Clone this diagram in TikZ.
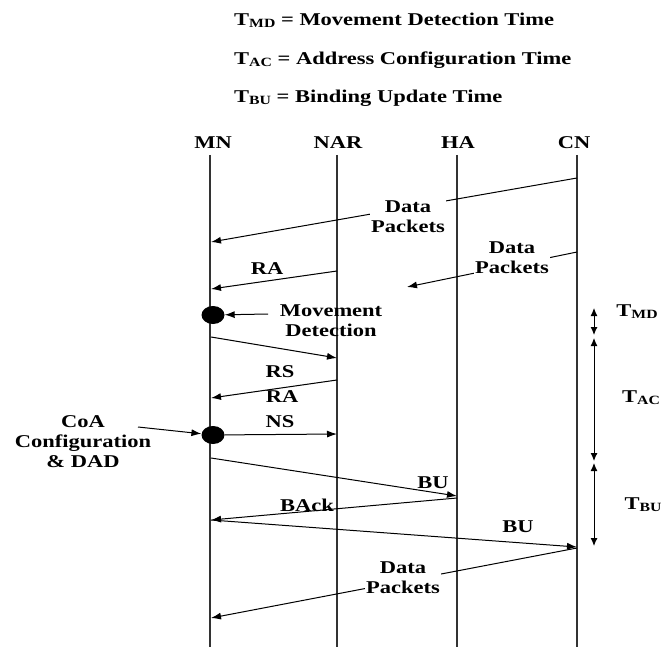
\documentclass[tikz,border=0pt]{standalone}
\usepackage{fontspec}
\setmainfont{Liberation Serif}[FakeStretch=1.25]
\usetikzlibrary{arrows.meta,shapes.geometric}
\newcommand\mysub[1]{\raisebox{-2pt}{\fontsize{12.6}{13}\selectfont #1}}
\begin{document}
\begin{tikzpicture}[x=1pt,y=-1pt,
 lbl/.style={font=\fontsize{18}{20}\selectfont\bfseries, inner sep=1pt, align=center},
 life/.style={line width=2.4pt, draw=black!80},
 msg/.style={line width=1pt, -{Latex[length=10pt,width=7pt]}},
 dotn/.style={ellipse, fill=black, minimum width=23pt, minimum height=18pt, inner sep=0pt},
 tim/.style={line width=1pt, {Latex[length=8pt,width=7pt]}-{Latex[length=8pt,width=7pt]}}]
\useasboundingbox (0,0) rectangle (663,647);
% legend
\node[lbl, anchor=west] (l1) at (233,20) {T\mysub{MD} = Movement Detection Time};
\node[lbl, anchor=west] (l2) at (233,60) {T\mysub{AC} = Address Configuration Time};
\node[lbl, anchor=west] (l3) at (233,98) {T\mysub{BU} = Binding Update Time};
% headers
\node[lbl] (hMN) at (213,143) {MN};
\node[lbl] (hNAR) at (338,143) {NAR};
\node[lbl] (hHA) at (458,143) {HA};
\node[lbl] (hCN) at (574,143) {CN};
% lifelines
\coordinate (MNt) at (210,155); \coordinate (MNb) at (210,647);
\coordinate (NARt) at (337,155); \coordinate (NARb) at (337,647);
\coordinate (HAt) at (457,155); \coordinate (HAb) at (457,647);
\coordinate (CNt) at (577,155); \coordinate (CNb) at (577,647);
\draw[life] (MNt) -- (MNb);
\draw[life] (NARt) -- (NARb);
\draw[life] (HAt) -- (HAb);
\draw[life] (CNt) -- (CNb);
% message end points
\coordinate (a1s) at (577,178); \coordinate (a1e) at (211,242);
\coordinate (a2s) at (577,252); \coordinate (a2e) at (407,287);
\coordinate (a3s) at (337,271); \coordinate (a3e) at (211,289);
\coordinate (mda) at (268,314);
\coordinate (a4s) at (211,337); \coordinate (a4e) at (337,358);
\coordinate (a5s) at (337,380); \coordinate (a5e) at (211,398);
\coordinate (a6e) at (337,434);
\coordinate (coa) at (138,427);
\coordinate (a7s) at (211,458); \coordinate (a7e) at (457,496);
\coordinate (a8s) at (457,498); \coordinate (a8e) at (211,520);
\coordinate (a9s) at (211,520); \coordinate (a9e) at (577,547);
\coordinate (a10s) at (577,548); \coordinate (a10e) at (211,618);
% dots
\node[dotn] (d1) at (213,315) {};
\node[dotn] (d2) at (213,435) {};
% messages
\draw[msg] (a1s) -- (a1e);
\node[lbl, fill=white] (dp1) at (408,217) {Data\\Packets};
\draw[msg] (a2s) -- (a2e);
\node[lbl, fill=white] (dp2) at (512,258) {Data\\Packets};
\draw[msg] (a3s) -- (a3e);
\node[lbl] (ra1) at (267,269) {RA};
\node[lbl] (md) at (331,321) {Movement\\Detection};
\draw[msg] (mda) -- (d1);
\draw[msg] (a4s) -- (a4e);
\node[lbl] (rs) at (280,372) {RS};
\draw[msg] (a5s) -- (a5e);
\node[lbl] (ra2) at (282,397) {RA};
\node[lbl] (ns) at (280,422) {NS};
\draw[msg] (d2) -- (a6e);
\node[lbl] (coal) at (83,442) {CoA\\Configuration\\\& DAD};
\draw[msg] (coa) -- (d2);
\draw[msg] (a7s) -- (a7e);
\node[lbl] (bu1) at (433,483) {BU};
\draw[msg] (a8s) -- (a8e);
\node[lbl] (back) at (307,505) {BAck};
\draw[msg] (a9s) -- (a9e);
\node[lbl] (bu2) at (518,527) {BU};
\draw[msg] (a10s) -- (a10e);
\node[lbl, fill=white] (dp3) at (403,578) {Data\\Packets};
% timing
\coordinate (t1) at (594,308); \coordinate (t2) at (594,335);
\coordinate (t3) at (594,338); \coordinate (t4) at (594,461);
\coordinate (t5) at (594,463); \coordinate (t6) at (594,546);
\draw[tim] (t1) -- (t2);
\draw[tim] (t3) -- (t4);
\draw[tim] (t5) -- (t6);
\node[lbl] (tmd) at (637,312) {T\mysub{MD}};
\node[lbl] (tac) at (641,398) {T\mysub{AC}};
\node[lbl] (tbu) at (643,505) {T\mysub{BU}};
\end{tikzpicture}
\end{document}
